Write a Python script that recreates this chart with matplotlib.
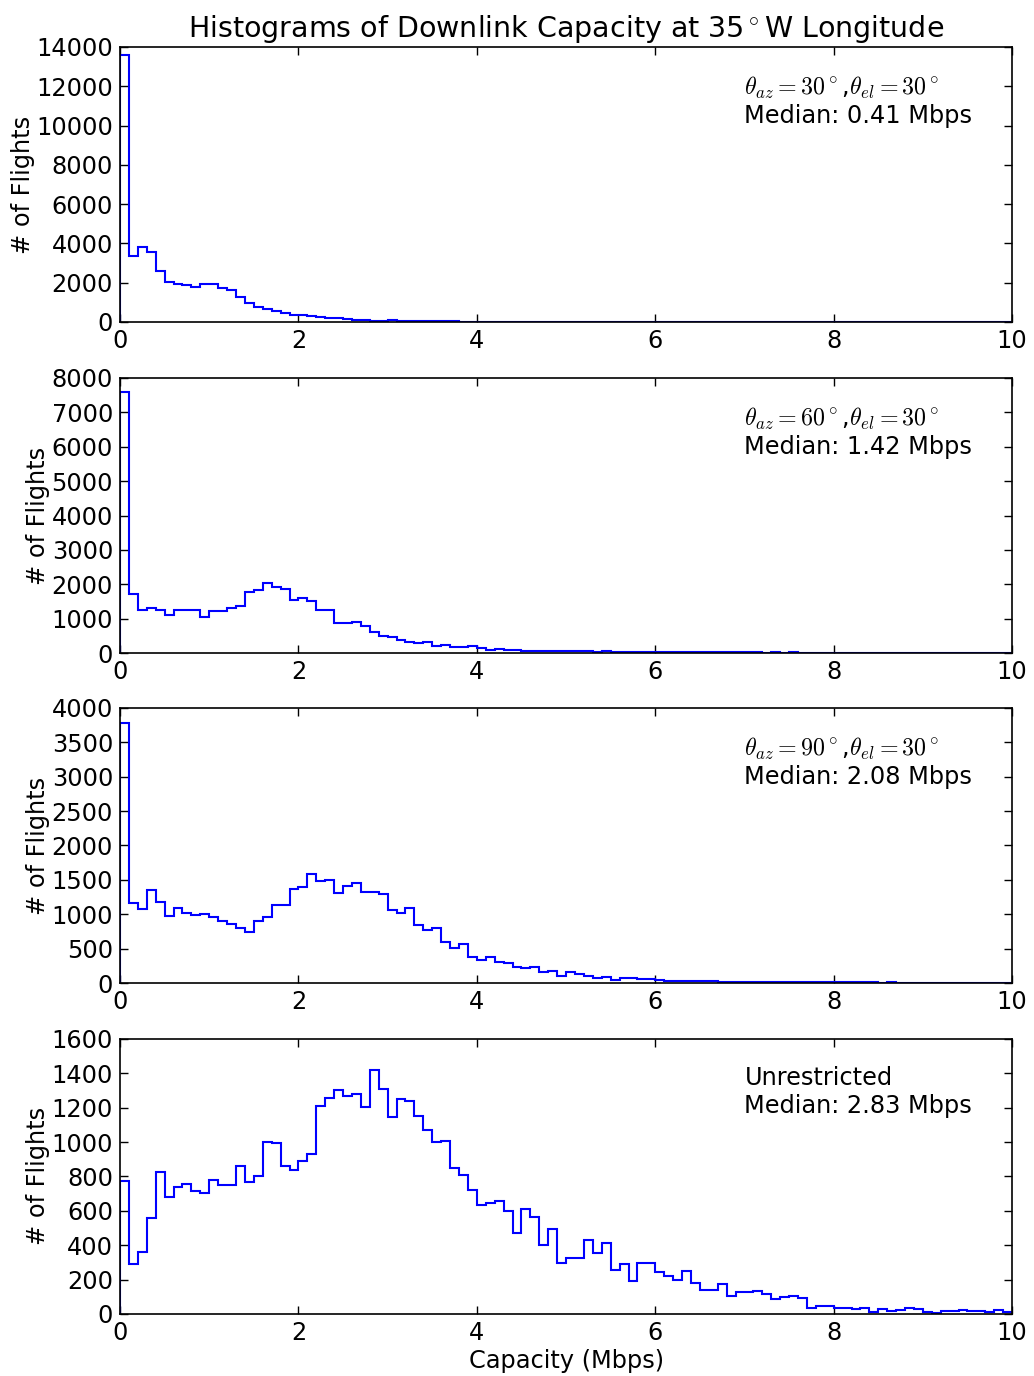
import numpy as np
import matplotlib
matplotlib.use("Agg")
import matplotlib.pyplot as plt

plt.rcParams['mathtext.fontset'] = 'cm'
plt.rcParams['font.family'] = ['DejaVu Sans']

bin_edges = np.linspace(0, 10, 101)

counts_30 = [13600, 3345, 3820, 3565, 2580, 2055, 1950, 1870, 1765, 1950,
             1935, 1750, 1610, 1255, 950, 750, 660, 545, 460, 370,
             340, 320, 240, 205, 190, 170, 120, 100, 70, 55,
             85, 45, 40, 35, 35, 30, 28, 25, 22, 20,
             18, 16, 15, 14, 12, 12, 10, 10, 9, 8,
             8, 7, 7, 6, 6, 5, 5, 5, 4, 4,
             4, 3, 3, 3, 3, 2, 3, 2, 2, 2,
             2, 2, 1, 2, 1, 1, 2, 1, 1, 1,
             1, 1, 1, 1, 1, 1, 1, 1, 1, 1,
             1, 1, 1, 1, 1, 1, 1, 1, 1, 1]

counts_60 = [7600, 1730, 1256, 1314, 1256, 1100, 1246, 1266, 1266, 1053,
             1227, 1237, 1324, 1372, 1768, 1845, 2048, 1913, 1855, 1556,
             1604, 1507, 1246, 1256, 860, 860, 908, 783, 600, 502,
             454, 367, 330, 300, 330, 212, 222, 174, 174, 193,
             155, 77, 116, 77, 75, 70, 68, 72, 65, 60,
             55, 62, 50, 45, 48, 40, 42, 38, 35, 45,
             30, 28, 32, 25, 30, 22, 25, 20, 22, 18,
             20, 18, 15, 17, 14, 16, 12, 14, 11, 12,
             10, 12, 9, 10, 8, 9, 7, 8, 6, 7,
             6, 5, 6, 5, 4, 5, 4, 4, 3, 3]

counts_90 = [3780, 1166, 1075, 1346, 1176, 973, 1084, 1016, 983, 1002,
             963, 895, 852, 799, 736, 900, 963, 1137, 1132, 1360,
             1394, 1588, 1486, 1505, 1302, 1418, 1452, 1326, 1326, 1297,
             1060, 1012, 1084, 842, 774, 799, 590, 503, 561, 373,
             339, 382, 310, 286, 237, 213, 232, 155, 174, 106,
             165, 135, 97, 68, 87, 48, 68, 77, 58, 58,
             44, 34, 29, 30, 26, 24, 25, 20, 18, 22,
             16, 18, 14, 15, 12, 14, 12, 15, 10, 12,
             10, 9, 10, 8, 9, 7, 8, 6, 7, 6,
             5, 6, 5, 4, 5, 4, 3, 4, 3, 3]

counts_unres = [775, 291, 358, 556, 824, 680, 740, 756, 717, 702,
                779, 750, 748, 860, 769, 802, 998, 994, 860, 835,
                891, 928, 1207, 1254, 1304, 1267, 1279, 1205, 1417, 1308,
                1145, 1248, 1240, 1149, 1070, 998, 1006, 851, 808, 719,
                634, 645, 657, 597, 469, 610, 566, 399, 492, 298,
                324, 328, 430, 357, 415, 256, 289, 194, 296, 298,
                242, 221, 198, 252, 182, 140, 141, 172, 105, 126,
                128, 132, 118, 89, 101, 105, 93, 37, 47, 48,
                33, 33, 29, 37, 14, 31, 19, 21, 37, 29,
                12, 6, 17, 19, 25, 17, 16, 14, 21, 12]

labels = [r'$\theta_{az}=30^\circ$,$\theta_{el}=30^\circ$' + '\nMedian: 0.41 Mbps',
          r'$\theta_{az}=60^\circ$,$\theta_{el}=30^\circ$' + '\nMedian: 1.42 Mbps',
          r'$\theta_{az}=90^\circ$,$\theta_{el}=30^\circ$' + '\nMedian: 2.08 Mbps',
          'Unrestricted\nMedian: 2.83 Mbps']
ymaxes = [14000, 8000, 4000, 1600]
ysteps = [2000, 1000, 500, 200]
series = [counts_30, counts_60, counts_90, counts_unres]

fig = plt.figure(figsize=(10.34, 13.76), dpi=100)
bottoms = [0.766, 0.5254, 0.2856, 0.0451]
centers = (bin_edges[:-1] + bin_edges[1:]) / 2
fs = 17.3
for i in range(4):
    ax = fig.add_axes([0.1161, bottoms[i], 0.8627, 0.1999])
    ax.hist(centers, bins=bin_edges, weights=series[i], histtype='step',
            color='#0000ff', linewidth=1.5)
    ax.set_xlim(0, 10)
    ax.set_ylim(0, ymaxes[i])
    ax.set_xticks(np.arange(0, 11, 2))
    ax.set_yticks(np.arange(0, ymaxes[i] + 1, ysteps[i]))
    ax.tick_params(direction='in', top=True, right=True, labelsize=fs,
                   length=6, width=1, pad=5)
    for s in ax.spines.values():
        s.set_linewidth(1.2)
    ax.set_ylabel('# of Flights', fontsize=fs, labelpad=1)
    ax.text(0.7, 0.9, labels[i], transform=ax.transAxes, va='top', ha='left',
            fontsize=fs)
    if i == 0:
        ax.set_title(r'Histograms of Downlink Capacity at 35$^\circ$W Longitude',
                     fontsize=20.5, pad=7)
    if i == 3:
        ax.set_xlabel('Capacity (Mbps)', fontsize=fs, labelpad=3)

fig.savefig('out.png', dpi=100, facecolor='white')
